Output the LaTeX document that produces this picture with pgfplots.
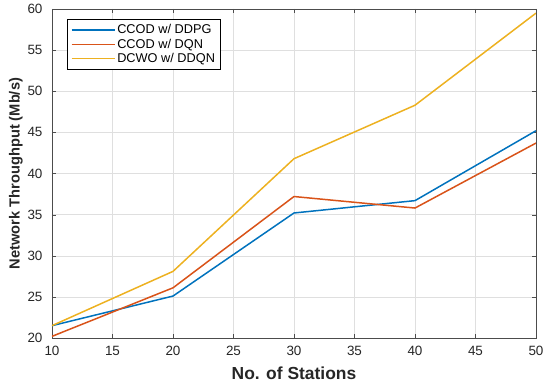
\documentclass[border=0pt]{standalone}
\usepackage{pgfplots}
\pgfplotsset{compat=1.18}
\usepackage{fontspec}
\setmainfont{Liberation Sans}
\definecolor{mblue}{rgb}{0,0.447,0.741}
\definecolor{mred}{rgb}{0.85,0.325,0.098}
\definecolor{myellow}{rgb}{0.929,0.694,0.125}
\begin{document}
\begin{tikzpicture}
\begin{axis}[
  scale only axis,
  width=484bp, height=329bp,
  xmin=10, xmax=50, ymin=20, ymax=60,
  xtick={10,15,...,50}, ytick={20,25,...,60},
  grid=major,
  grid style={gray!25, line width=0.5pt},
  axis line style={gray!60!black, line width=0.7pt},
  tick style={gray!60!black},
  tick align=inside,
  major tick length=4bp,
  /pgf/number format/assume math mode=true,
  tick label style={font=\fontsize{13.5}{15}\selectfont, text=black!85},
  yticklabel style={xshift=-6bp},
  xticklabel style={yshift=-5bp},
  xlabel={\textbf{No. of Stations}},
  ylabel={\textbf{Network Throughput (Mb/s)}},
  xlabel style={font=\fontsize{17.5}{19}\selectfont, yshift=-4bp, text=black!85},
  ylabel style={font=\fontsize{14.7}{16}\selectfont, yshift=-2bp, text=black!85},
  legend style={at={(0.031,0.97)}, anchor=north west, draw=black, line width=0.6pt,
    font=\fontsize{12.8}{14}\selectfont, row sep=-0.5bp, inner sep=3.5bp},
  legend cell align=left,
  legend image code/.code={\draw[#1, line width=1.5pt] (0bp,0bp) -- (43bp,0bp);},
]
\addplot[mblue, line width=1.5pt] coordinates {(10,21.5) (20,25.1) (30,35.2) (40,36.7) (50,45.2)};
\addlegendentry{CCOD w/ DDPG}
\addplot[mred, line width=1.5pt] coordinates {(10,20.2) (20,26.1) (30,37.2) (40,35.8) (50,43.7)};
\addlegendentry{CCOD w/ DQN}
\addplot[myellow, line width=1.5pt] coordinates {(10,21.5) (20,28.1) (30,41.8) (40,48.3) (50,59.5)};
\addlegendentry{DCWO w/ DDQN}
\end{axis}
\path (-52bp,-47bp) rectangle (498bp,338bp);
\end{tikzpicture}
\end{document}
